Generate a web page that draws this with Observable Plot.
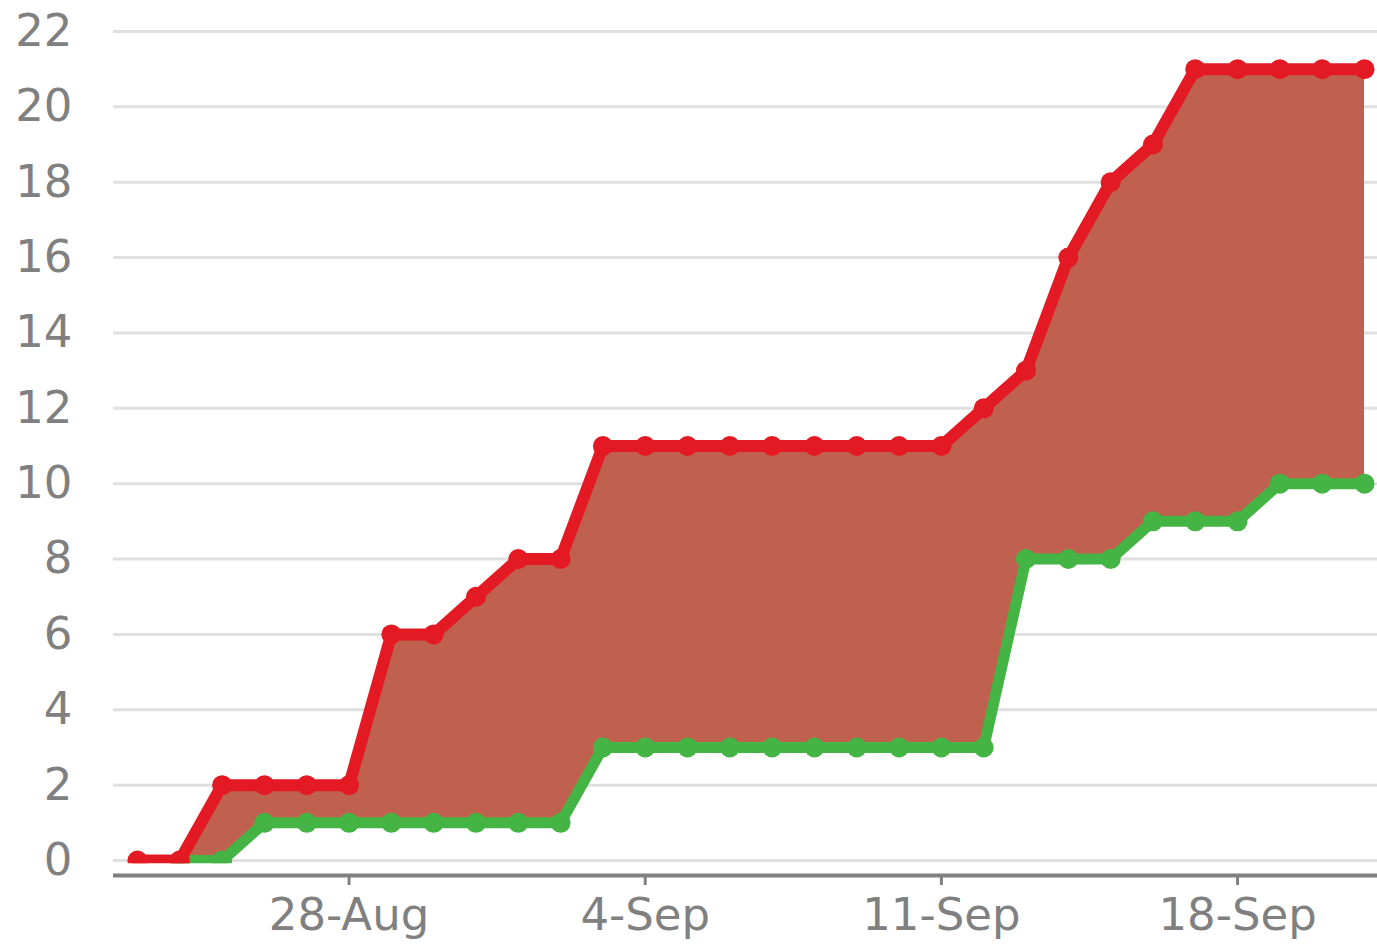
<!DOCTYPE html>
<html>
<head>
<meta charset="utf-8">
<script src="https://cdn.jsdelivr.net/npm/d3@7"></script>
<script src="https://cdn.jsdelivr.net/npm/@observablehq/plot@0.6"></script>
<style>
  html, body { margin: 0; padding: 0; background: #fff; }
</style>
</head>
<body>
<div id="chart"></div>
<script>
const days = [
  "2016-08-23","2016-08-24","2016-08-25","2016-08-26","2016-08-27","2016-08-28",
  "2016-08-29","2016-08-30","2016-08-31","2016-09-01","2016-09-02","2016-09-03",
  "2016-09-04","2016-09-05","2016-09-06","2016-09-07","2016-09-08","2016-09-09",
  "2016-09-10","2016-09-11","2016-09-12","2016-09-13","2016-09-14","2016-09-15",
  "2016-09-16","2016-09-17","2016-09-18","2016-09-19","2016-09-20","2016-09-21"
];
const opened = [0,0,2,2,2,2,6,6,7,8,8,11,11,11,11,11,11,11,11,11,12,13,16,18,19,21,21,21,21,21];
const closed = [null,0,0,1,1,1,1,1,1,1,1,3,3,3,3,3,3,3,3,3,3,8,8,8,9,9,9,10,10,10];
const xTickLabels = ["2016-08-28","2016-09-04","2016-09-11","2016-09-18"];
const yTicks = [0,2,4,6,8,10,12,14,16,18,20,22];

const rows = days.map((d, i) => ({date: new Date(d + "T00:00:00Z"), opened: opened[i], closed: closed[i]}));
const both = rows.filter(r => r.closed != null);
const fmt = d3.utcFormat("%-d-%b");

const chart = Plot.plot({
  width: 1377,
  height: 944,
  marginLeft: 113,
  marginRight: 0,
  marginTop: 31,
  marginBottom: 69,
  style: {fontFamily: "'DejaVu Sans', sans-serif", fontSize: "45px", color: "#808080", background: "#fff"},
  x: {type: "utc", domain: [rows[0].date, rows[rows.length - 1].date], insetLeft: 24, insetRight: 13},
  y: {domain: [0, 22], insetBottom: 15},
  marks: [
    Plot.gridY(yTicks, {stroke: "#e0e0e0", strokeOpacity: 1, strokeWidth: 3}),
    Plot.axisY(yTicks, {tickSize: 0, tickPadding: 41, label: null, fill: "#808080"}),
    Plot.axisX(xTickLabels.map(d => new Date(d + "T00:00:00Z")), {tickFormat: fmt, tickSize: 10, tickPadding: 13, strokeWidth: 3, stroke: "#808080", fill: "#808080", label: null}),
    Plot.ruleY([0], {dy: 15, stroke: "#808080", strokeWidth: 4}),
    Plot.areaY(both, {x: "date", y1: "closed", y2: "opened", fill: "#c0604e", fillOpacity: 1}),
    Plot.lineY(both, {x: "date", y: "closed", stroke: "#44b544", strokeWidth: 11}),
    Plot.dot(both, {x: "date", y: "closed", fill: "#44b544", r: 10}),
    Plot.lineY(rows, {x: "date", y: "opened", stroke: "#e31a23", strokeWidth: 12}),
    Plot.dot(rows, {x: "date", y: "opened", fill: "#e31a23", r: 10})
  ]
});

// clip the data marks just below the zero line
const ns = "http://www.w3.org/2000/svg";
const yZero = chart.scale("y").apply(0);
const defs = document.createElementNS(ns, "defs");
const cp = document.createElementNS(ns, "clipPath");
cp.setAttribute("id", "plotclip");
const rect = document.createElementNS(ns, "rect");
rect.setAttribute("x", 0);
rect.setAttribute("y", 0);
rect.setAttribute("width", 1377);
rect.setAttribute("height", yZero + 2.7);
cp.appendChild(rect);
defs.appendChild(cp);
chart.insertBefore(defs, chart.firstChild);
chart.querySelectorAll('g[aria-label="area"], g[aria-label="line"], g[aria-label="dot"]').forEach(g => g.setAttribute("clip-path", "url(#plotclip)"));

document.getElementById("chart").appendChild(chart);
</script>
</body>
</html>
